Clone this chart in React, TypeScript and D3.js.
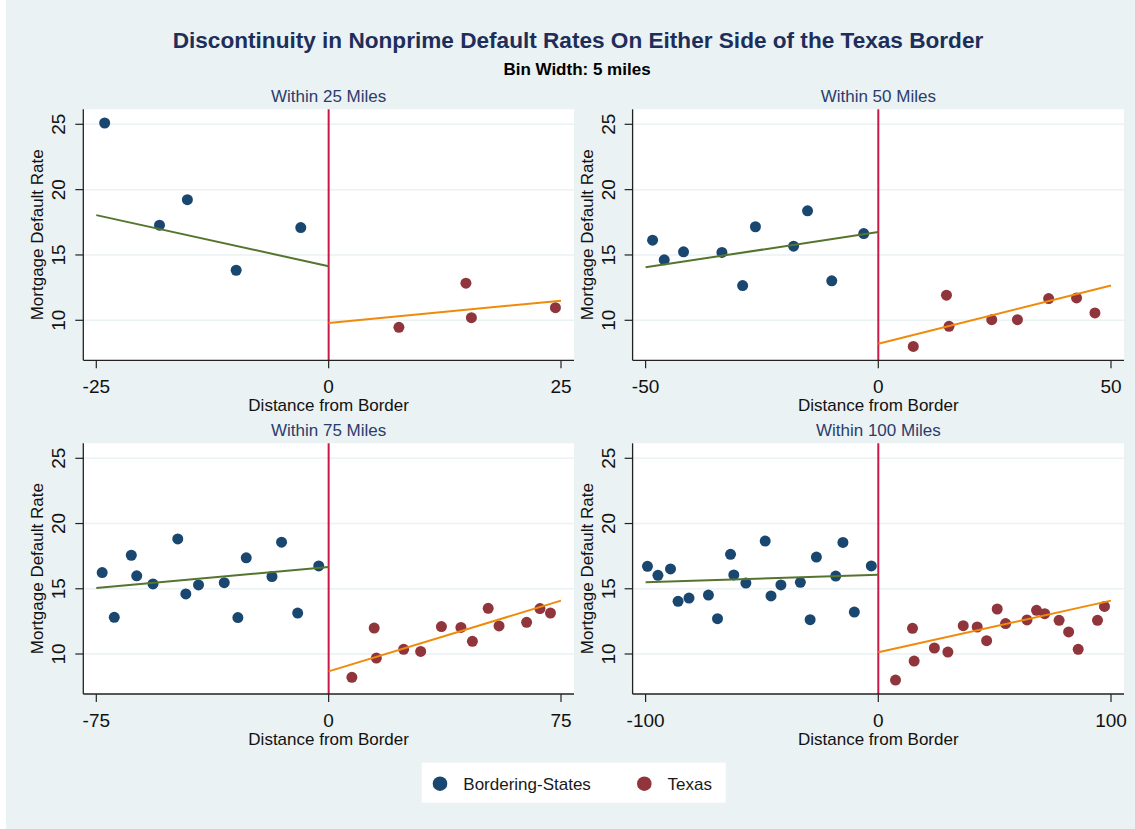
import * as d3 from "d3";

// chart values
const panelTitles = ["Within 25 Miles", "Within 50 Miles", "Within 75 Miles", "Within 100 Miles"];
const panelRanges = [25, 50, 75, 100];
const yTicks = [10, 15, 20, 25];
const seriesNames = ["Bordering-States", "Texas"];

const blue25: [number, number][] = [
  [-24.1, 25.1], [-18.2, 17.28], [-15.2, 19.23], [-9.95, 13.83], [-3.0, 17.1],
];
const red25: [number, number][] = [
  [7.56, 9.46], [14.77, 12.84], [15.36, 10.2], [24.4, 10.97],
];

const blue50: [number, number][] = [
  [-48.5, 16.13], [-46.0, 14.63], [-41.85, 15.24], [-33.6, 15.19], [-29.15, 12.66],
  [-26.4, 17.16], [-18.2, 15.67], [-15.2, 18.38], [-10.0, 13.02], [-3.13, 16.64],
];
const red50: [number, number][] = [
  [7.52, 8.0], [14.65, 11.92], [15.2, 9.54], [24.37, 10.05], [29.9, 10.05],
  [36.6, 11.66], [42.6, 11.71], [46.55, 10.56],
];

const blue75: [number, number][] = [
  [-73.1, 16.24], [-69.2, 12.81], [-63.7, 17.57], [-61.95, 15.99], [-56.7, 15.37],
  [-48.7, 18.82], [-46.1, 14.6], [-42.0, 15.29], [-33.7, 15.47], [-29.3, 12.79],
  [-26.6, 17.37], [-18.3, 15.94], [-15.2, 18.57], [-10.0, 13.14], [-3.2, 16.75],
];
const red75: [number, number][] = [
  [7.5, 8.21], [14.7, 11.99], [15.4, 9.69], [24.2, 10.36], [29.7, 10.2],
  [36.4, 12.1], [42.7, 12.04], [46.4, 10.97], [51.5, 13.5], [55.0, 12.15],
  [63.9, 12.43], [68.2, 13.48], [71.6, 13.14],
];

const blue100: [number, number][] = [
  [-99.2, 16.72], [-94.7, 16.03], [-89.3, 16.52], [-86.05, 14.04], [-81.35, 14.29],
  [-73.0, 14.52], [-69.1, 12.71], [-63.5, 17.64], [-62.1, 16.06], [-56.9, 15.44],
  [-48.6, 18.66], [-46.1, 14.45], [-41.85, 15.29], [-33.5, 15.49], [-29.3, 12.63],
  [-26.6, 17.43], [-18.3, 15.97], [-15.2, 18.55], [-10.3, 13.21], [-3.0, 16.75],
];
const red100: [number, number][] = [
  [7.4, 8.0], [14.7, 11.97], [15.4, 9.46], [24.1, 10.46], [29.9, 10.15],
  [36.5, 12.17], [42.5, 12.07], [46.55, 11.02], [51.1, 13.45], [54.7, 12.33],
  [63.9, 12.61], [68.0, 13.35], [71.5, 13.09], [77.7, 12.58], [81.8, 11.69],
  [85.9, 10.36], [94.2, 12.58], [97.2, 13.65],
];

// linear fit endpoints: left side at x = -range and 0, right side at 0 and +range
const blueFits: [number, number][] = [[18.05, 14.14], [14.06, 16.75], [15.06, 16.67], [15.49, 16.08]];
const redFits: [number, number][] = [[9.8, 11.5], [8.21, 12.66], [8.67, 14.09], [10.13, 14.09]];

const bluePoints = [blue25, blue50, blue75, blue100];
const redPoints = [red25, red50, red75, red100];

const W = 1135;
const H = 829;
const font = "'Liberation Sans', Arial, Helvetica, sans-serif";
const bg = "#eaf2f3";
const navy = "#1a476f";
const maroon = "#90353b";
const green = "#55752f";
const orange = "#f08a0a";
const crimson = "#cc1848";

const cols = [{ left: 83.3, right: 574 }, { left: 632.6, right: 1124 }];
const rows = [{ top: 109.3, bottom: 360.3 }, { top: 443.3, bottom: 694 }];

function Panel({ i }: { i: number }) {
  const c = cols[i % 2];
  const r = rows[Math.floor(i / 2)];
  const R = panelRanges[i];
  const x = d3.scaleLinear().domain([-R, R]).range([c.left + 13, c.right - 13]);
  const y = d3.scaleLinear().domain([10, 25]).range([r.bottom - 40, r.top + 15]);
  const cx = (c.left + c.right) / 2;
  const cy = (r.top + r.bottom) / 2;
  const line = d3.line<[number, number]>().x(d => x(d[0])).y(d => y(d[1]));
  const bf = blueFits[i];
  const rf = redFits[i];

  return (
    <g>
      <rect x={c.left} y={r.top} width={c.right - c.left} height={r.bottom - r.top} fill="#fff" />
      {yTicks.map(t => (
        <g key={t}>
          <line x1={c.left} x2={c.right} y1={y(t)} y2={y(t)} stroke={bg} strokeWidth={1.5} />
          <line x1={c.left - 8} x2={c.left} y1={y(t)} y2={y(t)} stroke="#222" strokeWidth={1.2} />
          <text
            transform={`translate(${c.left - 18},${y(t)}) rotate(-90)`}
            textAnchor="middle" fontSize={19} fill="#111"
          >{t}</text>
        </g>
      ))}
      <line x1={x(0)} x2={x(0)} y1={r.top} y2={r.bottom} stroke={crimson} strokeWidth={2} />
      <g fill={navy}>
        {bluePoints[i].map((d, k) => <circle key={k} cx={x(d[0])} cy={y(d[1])} r={5.5} />)}
      </g>
      <g fill={maroon}>
        {redPoints[i].map((d, k) => <circle key={k} cx={x(d[0])} cy={y(d[1])} r={5.5} />)}
      </g>
      <path d={line([[-R, bf[0]], [0, bf[1]]]) ?? ""} stroke={green} strokeWidth={2} fill="none" />
      <path d={line([[0, rf[0]], [R, rf[1]]]) ?? ""} stroke={orange} strokeWidth={2} fill="none" />
      <line x1={c.left} x2={c.left} y1={r.top} y2={r.bottom} stroke="#222" strokeWidth={1.3} />
      <line x1={c.left} x2={c.right} y1={r.bottom} y2={r.bottom} stroke="#222" strokeWidth={1.3} />
      {[-R, 0, R].map(t => (
        <g key={t}>
          <line x1={x(t)} x2={x(t)} y1={r.bottom} y2={r.bottom + 8} stroke="#222" strokeWidth={1.2} />
          <text x={x(t)} y={r.bottom + 33} textAnchor="middle" fontSize={19} fill="#111">{t}</text>
        </g>
      ))}
      <text x={cx} y={r.bottom + 50.5} textAnchor="middle" fontSize={17} fill="#111">Distance from Border</text>
      <text
        transform={`translate(${c.left - 40},${cy}) rotate(-90)`}
        textAnchor="middle" fontSize={17} fill="#111"
      >Mortgage Default Rate</text>
      <text x={cx} y={r.top - 7.5} textAnchor="middle" fontSize={17} fill="#2c3c6c">{panelTitles[i]}</text>
    </g>
  );
}

export default function App() {
  const legendColors = [navy, maroon];
  const legendX = [440, 644.3];
  return (
    <svg width={W} height={H} style={{ display: "block", position: "absolute", left: 0, top: 0 }} fontFamily={font}>
      <rect x={0} y={0} width={W} height={H} fill="#fff" />
      <rect x={6} y={0} width={W - 6} height={H} fill={bg} />
      <text x={578} y={48.3} textAnchor="middle" fontSize={22.6} fontWeight="bold" fill="#1e2e5a">
        Discontinuity in Nonprime Default Rates On Either Side of the Texas Border
      </text>
      <text x={577} y={75} textAnchor="middle" fontSize={17} fontWeight="bold" fill="#000">Bin Width: 5 miles</text>
      {[0, 1, 2, 3].map(i => <Panel key={i} i={i} />)}
      <rect x={421.7} y={762.7} width={304} height={40} fill="#fff" />
      {seriesNames.map((s, k) => (
        <g key={s}>
          <circle cx={legendX[k]} cy={783.7} r={7.3} fill={legendColors[k]} />
          <text x={legendX[k] + 23.3} y={790} fontSize={17} fill="#1a1a1a">{s}</text>
        </g>
      ))}
    </svg>
  );
}
